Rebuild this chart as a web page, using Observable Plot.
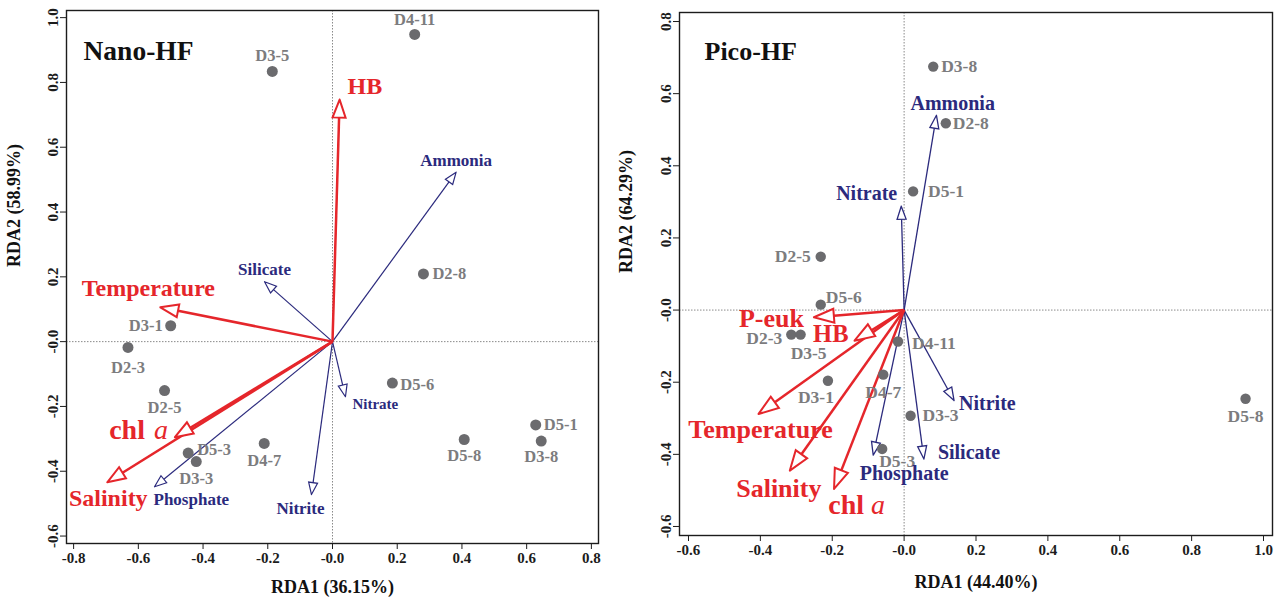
<!DOCTYPE html>
<html><head><meta charset="utf-8">
<script src="https://cdn.jsdelivr.net/npm/d3@7"></script>
<script src="https://cdn.jsdelivr.net/npm/@observablehq/plot@0.6"></script>
<style>
body{margin:0;background:#fff;}
#wrap{position:relative;width:1275px;height:599px;overflow:hidden;background:#fff;}
#left{position:absolute;top:0;left:0;width:625px;height:599px;}
#right{position:absolute;top:0;left:625px;width:650px;height:599px;}
</style></head><body>
<div id="wrap"><div id="left"></div><div id="right"></div></div>
<script>
// ---------------- Nano-HF data ----------------
const nanoSites = ["D3-5","D4-11","D2-8","D3-1","D2-3","D2-5","D5-3","D3-3","D4-7","D5-6","D5-8","D5-1","D3-8"];
const nanoSiteRDA1 = [-0.186, 0.254, 0.281, -0.500, -0.632, -0.519, -0.446, -0.421, -0.211, 0.185, 0.407, 0.628, 0.645];
const nanoSiteRDA2 = [0.834, 0.948, 0.209, 0.049, -0.018, -0.151, -0.344, -0.370, -0.314, -0.128, -0.302, -0.257, -0.307];
const nanoRedVars = ["HB","Temperature","chl a","Salinity"];
const nanoRedRDA1 = [0.022, -0.532, -0.487, -0.696];
const nanoRedRDA2 = [0.747, 0.106, -0.295, -0.434];
const nanoBlueVars = ["Ammonia","Silicate","Nitrate","Nitrite","Phosphate"];
const nanoBlueRDA1 = [0.382, -0.210, 0.040, -0.065, -0.550];
const nanoBlueRDA2 = [0.523, 0.185, -0.170, -0.472, -0.448];
const nanoXTicks = [-0.8,-0.6,-0.4,-0.2,0,0.2,0.4,0.6,0.8];
const nanoXTickLabels = ["-0.8","-0.6","-0.4","-0.2","-0.0","0.2","0.4","0.6","0.8"];
const nanoYTicks = [-0.6,-0.4,-0.2,0,0.2,0.4,0.6,0.8,1.0];
const nanoYTickLabels = ["-0.6","-0.4","-0.2","-0.0","0.2","0.4","0.6","0.8","1.0"];

// ---------------- Pico-HF data ----------------
const picoSites = ["D3-8","D2-8","D5-1","D2-5","D5-6","D2-3","D3-5","D4-11","D4-7","D3-1","D3-3","D5-3","D5-8"];
const picoSiteRDA1 = [0.081, 0.116, 0.025, -0.232, -0.232, -0.314, -0.288, -0.017, -0.058, -0.212, 0.018, -0.061, 0.950];
const picoSiteRDA2 = [0.675, 0.518, 0.329, 0.148, 0.015, -0.068, -0.068, -0.087, -0.179, -0.196, -0.293, -0.385, -0.246];
const picoRedVars = ["P-euk","HB","Temperature","Salinity","chl a"];
const picoRedRDA1 = [-0.251, -0.138, -0.405, -0.318, -0.195];
const picoRedRDA2 = [-0.020, -0.085, -0.288, -0.445, -0.496];
const picoBlueVars = ["Ammonia","Nitrate","Nitrite","Silicate","Phosphate"];
const picoBlueRDA1 = [0.090, -0.008, 0.139, 0.055, -0.086];
const picoBlueRDA2 = [0.540, 0.288, -0.251, -0.413, -0.402];
const picoXTicks = [-0.6,-0.4,-0.2,0,0.2,0.4,0.6,0.8,1.0];
const picoXTickLabels = ["-0.6","-0.4","-0.2","-0.0","0.2","0.4","0.6","0.8","1.0"];
const picoYTicks = [-0.6,-0.4,-0.2,0,0.2,0.4,0.6,0.8];
const picoYTickLabels = ["-0.6","-0.4","-0.2","-0.0","0.2","0.4","0.6","0.8"];

// ---------------- layout & style (not data) ----------------
const RED = "#e5262b", BLUE = "#2b2a7d", DOT = "#6b6b6e", SITE = "#7c7c7e";
const FONT = '"Liberation Serif","Times New Roman",serif';

const nanoLayout = {
  el: "#left", width: 625, height: 599, mL: 66, mR: 27, mT: 10, mB: 56,
  xDomain: [-0.822, 0.822], yDomain: [-0.623, 1.022],
  title: "Nano-HF", titleSize: 27.5, titleDx: 17, titleDy: 30,
  xLabel: "RDA1 (36.15%)", xLabelDy: 49, yLabel: "RDA2 (58.99%)", yLabelDx: -52, yLabelDy: -10,
  siteSize: 16.5, dotR: 5.5,
  red: {L: 18, W: 6.5, sw: 2.5, hw: 2}, blue: {L: 12, W: 4.5, sw: 1.2, hw: 1.2},
  sitePos: {
    "D3-5":["middle",0,-16], "D4-11":["middle",0,-15], "D2-8":["start",9,0], "D3-1":["end",-8,0],
    "D2-3":["middle",0,20], "D2-5":["middle",0,17], "D5-3":["start",9,-3], "D3-3":["middle",0,17],
    "D4-7":["middle",0,17], "D5-6":["start",8,2], "D5-8":["middle",0,16], "D5-1":["start",8,0],
    "D3-8":["middle",0,16]
  },
  varPos: {
    "HB":["start",8,-13,24], "Temperature":["middle",-12,-19,24], "chl a":["split",-30,-21,-7,28],
    "Salinity":["middle",1,16,24], "Ammonia":["middle",0,-12,17], "Silicate":["middle",0,-12,17],
    "Nitrate":["start",7,7,15], "Nitrite":["middle",-11,14,17], "Phosphate":["start",-1,13,17]
  }
};
const picoLayout = {
  el: "#right", width: 650, height: 599, mL: 54, mR: 3, mT: 12, mB: 64,
  xDomain: [-0.625, 1.025], yDomain: [-0.625, 0.825],
  title: "Pico-HF", titleSize: 26, titleDx: 25, titleDy: 29,
  xLabel: "RDA1 (44.40%)", xLabelDy: 52, yLabel: "RDA2 (64.29%)", yLabelDx: -53, yLabelDy: -1,
  siteSize: 17.5, dotR: 5.2,
  red: {L: 20, W: 7, sw: 2.5, hw: 2}, blue: {L: 13, W: 4.5, sw: 1.3, hw: 1.3},
  sitePos: {
    "D3-8":["start",8,0], "D2-8":["start",7,0], "D5-1":["start",15,0], "D2-5":["end",-10,0],
    "D5-6":["start",5,-7], "D2-3":["end",-9,4], "D3-5":["middle",8,19], "D4-11":["start",14,2],
    "D4-7":["middle",0,18], "D3-1":["middle",-12,17], "D3-3":["start",12,0], "D5-3":["middle",15,12],
    "D5-8":["middle",0,18]
  },
  varPos: {
    "P-euk":["end",-10,1,26], "HB":["end",-6,-7,24.5], "Temperature":["middle",2,16,26],
    "Salinity":["middle",-11,18,26], "chl a":["split",30,37,16,28],
    "Ammonia":["start",-26,-12,20], "Nitrate":["end",-4,-13,20], "Nitrite":["start",5,3,20],
    "Silicate":["start",14,-6,20], "Phosphate":["middle",31,19,20]
  }
};

function arrows(names, xs, ys, kx, ky, spec, color) {
  const shafts = [], heads = [];
  names.forEach((n, i) => {
    const px = xs[i] * kx, py = -ys[i] * ky;
    const len = Math.hypot(px, py), ux = px / len, uy = py / len;
    const bx = px - spec.L * ux, by = py - spec.L * uy;
    const c1x = bx - spec.W * uy, c1y = by + spec.W * ux;
    const c2x = bx + spec.W * uy, c2y = by - spec.W * ux;
    shafts.push({x1: 0, y1: 0, x2: bx / kx, y2: -by / ky});
    [[px, py], [c1x, c1y], [c2x, c2y], [px, py]].forEach(([a, b]) => heads.push({n, x: a / kx, y: -b / ky}));
  });
  return [
    Plot.link(shafts, {x1: "x1", y1: "y1", x2: "x2", y2: "y2", stroke: color, strokeWidth: spec.sw}),
    Plot.line(heads, {x: "x", y: "y", z: "n", stroke: color, fill: "white", strokeWidth: spec.hw, strokeLinejoin: "miter", strokeMiterlimit: 10, curve: "linear"})
  ];
}

function varLabels(names, xs, ys, pos, color) {
  const marks = [];
  names.forEach((n, i) => {
    const p = pos[n];
    const d = [{x: xs[i], y: ys[i]}];
    if (p[0] === "split") {
      const parts = n.split(" ");
      marks.push(Plot.text(d, {x: "x", y: "y", text: () => parts[0], textAnchor: "end", dx: p[1], dy: p[3], fontSize: p[4], fontWeight: "bold", fill: color, fontFamily: FONT}));
      marks.push(Plot.text(d, {x: "x", y: "y", text: () => parts[1], textAnchor: "start", dx: p[2], dy: p[3], fontSize: p[4], fontWeight: "normal", fontStyle: "italic", fill: color, fontFamily: FONT}));
    } else {
      marks.push(Plot.text(d, {x: "x", y: "y", text: () => n, textAnchor: p[0], dx: p[1], dy: p[2], fontSize: p[3], fontWeight: "bold", fill: color, fontFamily: FONT}));
    }
  });
  return marks;
}

function panel(L, sites, sx, sy, redV, rx, ry, blueV, bx, by, xt, xtl, yt, ytl) {
  const kx = (L.width - L.mL - L.mR) / (L.xDomain[1] - L.xDomain[0]);
  const ky = (L.height - L.mT - L.mB) / (L.yDomain[1] - L.yDomain[0]);
  const siteData = sites.map((s, i) => ({s, x: sx[i], y: sy[i]}));
  const xfmt = d => xtl[xt.findIndex(t => Math.abs(t - d) < 1e-9)];
  const yfmt = d => ytl[yt.findIndex(t => Math.abs(t - d) < 1e-9)];
  const siteLabelMarks = sites.map((s, i) => {
    const p = L.sitePos[s];
    return Plot.text([siteData[i]], {x: "x", y: "y", text: "s", textAnchor: p[0], dx: p[1], dy: p[2], fontSize: L.siteSize, fontWeight: "bold", fill: SITE, fontFamily: FONT});
  });
  const chart = Plot.plot({
    width: L.width, height: L.height,
    marginLeft: L.mL, marginRight: L.mR, marginTop: L.mT, marginBottom: L.mB,
    x: {domain: L.xDomain, label: null},
    y: {domain: L.yDomain, label: null},
    style: {fontFamily: FONT, background: "transparent", overflow: "visible"},
    marks: [
      Plot.ruleX([0], {stroke: "#8a8a8a", strokeWidth: 1, strokeDasharray: "1.5,1.5"}),
      Plot.ruleY([0], {stroke: "#8a8a8a", strokeWidth: 1, strokeDasharray: "1.5,1.5"}),
      Plot.frame({stroke: "#1c1c1c", strokeWidth: 1.4}),
      Plot.axisX(xt, {tickSize: 6, tickPadding: 3, tickFormat: xfmt, fontSize: 15, fontWeight: "bold", label: null, stroke: "#1c1c1c", fill: "#1c1c1c"}),
      Plot.axisY(yt, {tickSize: 6, tickPadding: 3, tickRotate: -90, tickFormat: yfmt, fontSize: 15, fontWeight: "bold", label: null, stroke: "#1c1c1c", fill: "#1c1c1c"}),
      ...arrows(blueV, bx, by, kx, ky, L.blue, BLUE),
      ...arrows(redV, rx, ry, kx, ky, L.red, RED),
      Plot.dot(siteData, {x: "x", y: "y", r: L.dotR, fill: DOT, stroke: "none"}),
      ...siteLabelMarks,
      ...varLabels(blueV, bx, by, L.varPos, BLUE),
      ...varLabels(redV, rx, ry, L.varPos, RED),
      Plot.text([L.title], {text: d => d, frameAnchor: "top-left", textAnchor: "start", dx: L.titleDx, dy: L.titleDy, fontSize: L.titleSize, fontWeight: "bold", fill: "#111", fontFamily: FONT}),
      Plot.text([L.xLabel], {text: d => d, frameAnchor: "bottom", dy: L.xLabelDy, fontSize: 18, fontWeight: "bold", fill: "#111", fontFamily: FONT}),
      Plot.text([L.yLabel], {text: d => d, frameAnchor: "left", dx: L.yLabelDx, dy: L.yLabelDy, rotate: -90, fontSize: 18, fontWeight: "bold", fill: "#111", fontFamily: FONT})
    ]
  });
  document.querySelector(L.el).appendChild(chart);
}

panel(nanoLayout, nanoSites, nanoSiteRDA1, nanoSiteRDA2, nanoRedVars, nanoRedRDA1, nanoRedRDA2,
      nanoBlueVars, nanoBlueRDA1, nanoBlueRDA2, nanoXTicks, nanoXTickLabels, nanoYTicks, nanoYTickLabels);
panel(picoLayout, picoSites, picoSiteRDA1, picoSiteRDA2, picoRedVars, picoRedRDA1, picoRedRDA2,
      picoBlueVars, picoBlueRDA1, picoBlueRDA2, picoXTicks, picoXTickLabels, picoYTicks, picoYTickLabels);
</script></body></html>
